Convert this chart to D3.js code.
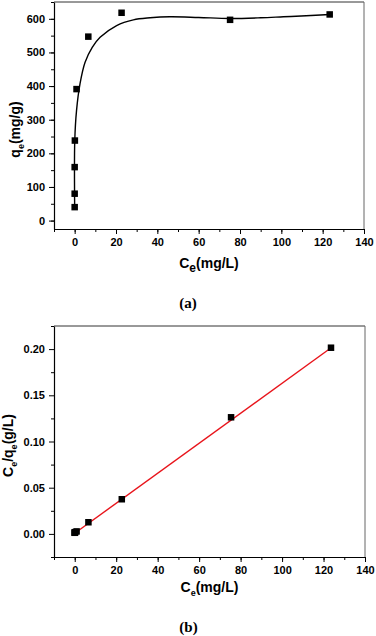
<!DOCTYPE html>
<html>
<head>
<meta charset="utf-8">
<script src="https://cdn.jsdelivr.net/npm/d3@7"></script>
<style>
  body { margin: 0; background: #fff; }
  svg text { font-family: "Liberation Sans", Arial, sans-serif; font-weight: bold; }
</style>
</head>
<body>
<svg id="chart" width="376" height="636"></svg>
<script>
// (a) isotherm data
var a_ce = [0, 0, 0, 0.1, 0.9, 6.6, 22.7, 75.2, 123.4];
var a_qe = [40, 80, 159, 238, 391, 547, 618, 597, 613];
// fitted curve
var a_fit_x = [0, 0.05, 0.9, 2.6, 5.0, 8.5, 12.3, 20.3, 28.4, 36.5, 46, 60, 75, 90, 101, 112, 123.4];
var a_fit_y = [40, 238, 327, 407, 470, 515, 545, 580, 597, 603, 606, 604, 601, 603, 606, 609, 613];
var a_yticks = [0, 100, 200, 300, 400, 500, 600];

// (b) linear form
var b_ce = [0, 0, 0.1, 0.2, 0.9, 6.6, 22.7, 75.4, 123.6];
var b_ratio = [0.0012, 0.0014, 0.0016, 0.0019, 0.0027, 0.0126, 0.0375, 0.1262, 0.2015];
var b_fit_x = [0, 123.5];
var b_fit_y = [0.0007, 0.2012];
var b_yticks = [0.00, 0.05, 0.10, 0.15, 0.20];

var x_ticks = [0, 20, 40, 60, 80, 100, 120, 140];

var svg = d3.select("#chart");

var draw_panel = function(opt){
  var x = d3.scaleLinear().domain([-10, 140]).range([opt.left, opt.right]);
  var y = d3.scaleLinear().domain(opt.ydomain).range([opt.bottom, opt.top]);
  var g = svg.append("g");

  // frame top/right
  g.append("line").attr("x1", opt.left).attr("x2", opt.right).attr("y1", opt.top).attr("y2", opt.top)
    .attr("stroke", "#333").attr("stroke-width", 1);
  g.append("line").attr("x1", opt.right).attr("x2", opt.right).attr("y1", opt.top).attr("y2", opt.bottom)
    .attr("stroke", "#666").attr("stroke-width", 1);

  // minor ticks
  var xminor = d3.range(-10, 141, 10);
  var xa_minor = d3.axisBottom(x).tickValues(xminor).tickSize(3).tickFormat("");
  g.append("g").attr("transform", "translate(0," + opt.bottom + ")").call(xa_minor)
    .call(function(s){ s.select(".domain").remove(); });
  var ya_minor = d3.axisLeft(y).tickValues(opt.yminor).tickSize(3).tickFormat("");
  g.append("g").attr("transform", "translate(" + opt.left + ",0)").call(ya_minor)
    .call(function(s){ s.select(".domain").remove(); });

  // major axes
  var xa = d3.axisBottom(x).tickValues(x_ticks).tickSize(5).tickSizeOuter(0).tickPadding(4);
  var gx = g.append("g").attr("transform", "translate(0," + opt.bottom + ")").call(xa);
  var ya = d3.axisLeft(y).tickValues(opt.yticks).tickSize(5).tickSizeOuter(0).tickPadding(4)
             .tickFormat(opt.yfmt);
  var gy = g.append("g").attr("transform", "translate(" + opt.left + ",0)").call(ya);
  [gx, gy].forEach(function(s){
    s.selectAll("text").attr("font-size", 11).attr("fill", "#000")
      .style("font-family", "'Liberation Sans', Arial, sans-serif").style("font-weight", "bold");
    s.select(".domain").attr("stroke-width", 1.2);
  });

  // fit line
  var fit = opt.fit_x.map(function(v, i){ return [v, opt.fit_y[i]]; });
  g.append("path").datum(fit)
    .attr("d", d3.line().x(function(d){ return x(d[0]); }).y(function(d){ return y(d[1]); }).curve(opt.curve))
    .attr("fill", "none").attr("stroke", opt.fit_color).attr("stroke-width", 1.4);

  // points
  var pts = opt.px.map(function(v, i){ return [v, opt.py[i]]; });
  g.selectAll("rect.pt").data(pts).enter().append("rect")
    .attr("class", "pt")
    .attr("x", function(d){ return x(d[0]) - 3.25; })
    .attr("y", function(d){ return y(d[1]) - 3.25; })
    .attr("width", 6.5).attr("height", 6.5)
    .attr("fill", "#000");

  // x title
  var xt = g.append("text").attr("x", (opt.left + opt.right) / 2).attr("y", opt.xtitle_y)
    .attr("text-anchor", "middle").attr("font-size", 14);
  xt.append("tspan").text("C");
  xt.append("tspan").text("e").attr("font-size", opt.sub_size).attr("dy", 4);
  xt.append("tspan").text("(mg/L)").attr("dy", -4);

  // y title
  var yt = g.append("text")
    .attr("transform", "translate(" + opt.ytitle_x + "," + ((opt.top + opt.bottom) / 2 + opt.ytitle_dy) + ") rotate(-90)")
    .attr("text-anchor", "middle").attr("font-size", 14);
  opt.ytitle.forEach(function(p){
    var t = yt.append("tspan").text(p[0]);
    if (p[1] == "sub") t.attr("font-size", 9).attr("dy", 4);
    if (p[1] == "up") t.attr("dy", -4);
  });

  // panel label
  svg.append("text").attr("x", (opt.left + opt.right) / 2 - 21).attr("y", opt.label_y)
    .attr("text-anchor", "middle").attr("font-size", 15)
    .style("font-family", "'Liberation Serif', 'Times New Roman', serif").style("font-weight", "bold")
    .text(opt.label);
};

draw_panel({
  left: 54, right: 364, top: 2, bottom: 229,
  ydomain: [-25, 650],
  yticks: a_yticks, yminor: d3.range(0, 651, 50), yfmt: d3.format("d"),
  fit_x: a_fit_x, fit_y: a_fit_y, curve: d3.curveCatmullRom.alpha(0.5), fit_color: "#000",
  px: a_ce, py: a_qe,
  xtitle_y: 268, sub_size: 12, ytitle_x: 20, ytitle_dy: 14,
  ytitle: [["q", ""], ["e", "sub"], ["(mg/g)", "up"]],
  label: "(a)", label_y: 308
});

draw_panel({
  left: 54, right: 365, top: 326, bottom: 557,
  ydomain: [-0.025, 0.225],
  yticks: b_yticks, yminor: [-0.025, 0.025, 0.075, 0.125, 0.175, 0.225],
  yfmt: d3.format(".2f"),
  fit_x: b_fit_x, fit_y: b_fit_y, curve: d3.curveLinear, fit_color: "#e8141b",
  px: b_ce, py: b_ratio,
  xtitle_y: 592, sub_size: 9, ytitle_x: 13, ytitle_dy: 4,
  ytitle: [["C", ""], ["e", "sub"], ["/q", "up"], ["e", "sub"], ["(g/L)", "up"]],
  label: "(b)", label_y: 632
});
</script>
</body>
</html>
